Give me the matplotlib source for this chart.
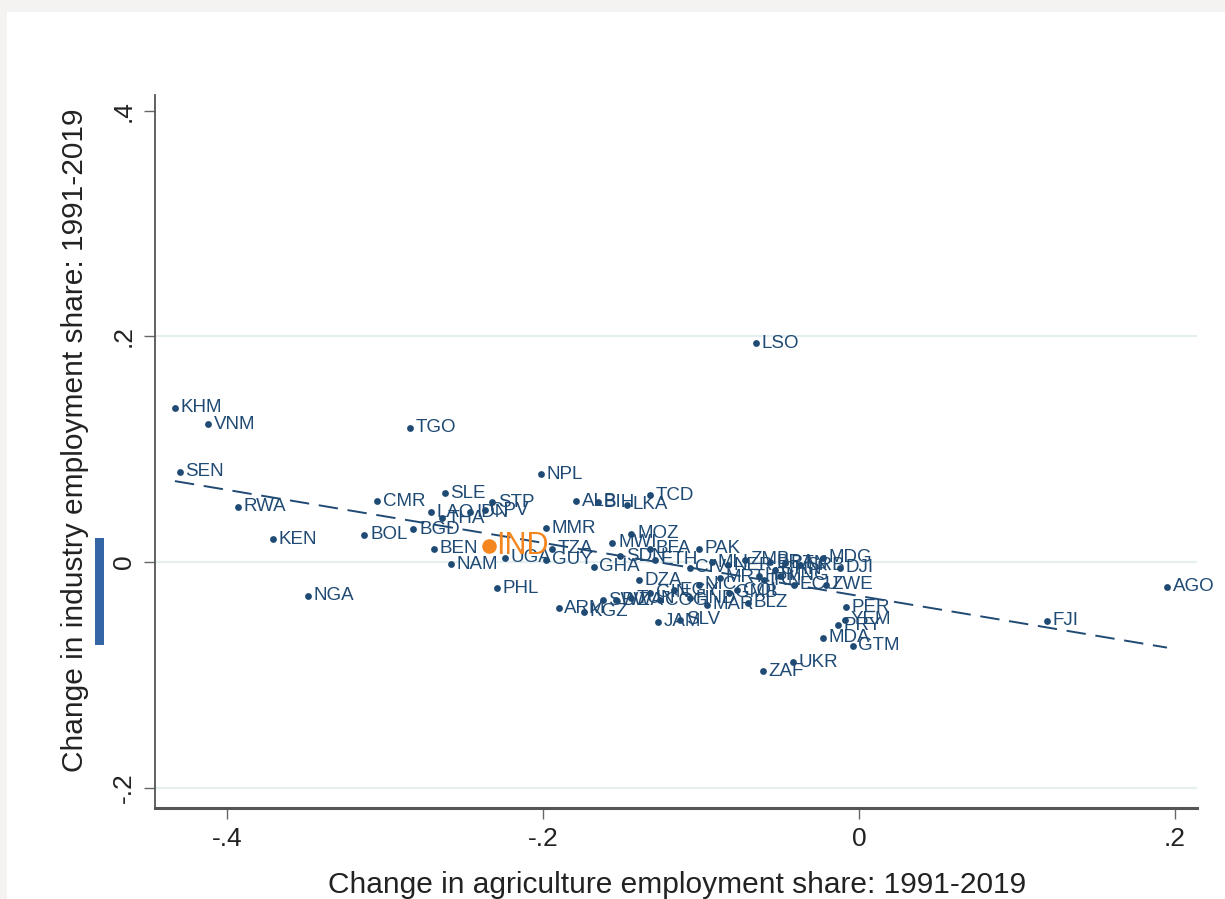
import matplotlib.pyplot as plt
from matplotlib.patches import Rectangle
import numpy as np

plt.rcParams["font.family"] = ["Liberation Sans", "DejaVu Sans"]

# country codes and changes in employment shares, 1991-2019
codes = [
    "KHM", "VNM", "SEN", "RWA", "KEN", "NGA", "TGO", "CMR", "BOL", "BGD",
    "SLE", "LAO", "THA", "IDN", "CPV", "STP", "BEN", "NAM", "UGA", "PHL",
    "NPL", "MMR", "TZA", "GUY", "ALB", "BIH", "LKA", "TCD", "MOZ", "MWI",
    "GHA", "ARM", "KGZ", "JAM", "SLV", "PAK", "MDG", "DJI", "ZWE", "PER",
    "YEM", "PRY", "MDA", "GTM", "ZAF", "UKR", "LSO", "FJI", "AGO",
    "DZA", "BFA", "SDN", "ETH", "CIV", "MLI", "NER", "ZMB", "BRA", "BTN",
    "HTI", "ECU", "COL", "MAR", "BLZ", "EGY", "HND", "NIC", "MRT", "IRN",
    "MNG", "TUN", "BWA", "SWZ", "GIN", "COG", "GMB", "CHN", "SRB",
]
agri_change = [
    -0.433, -0.412, -0.430, -0.393, -0.371, -0.349, -0.284, -0.305, -0.313, -0.282,
    -0.262, -0.271, -0.264, -0.246, -0.237, -0.232, -0.269, -0.258, -0.224, -0.229,
    -0.201, -0.198, -0.194, -0.198, -0.179, -0.165, -0.147, -0.132, -0.144, -0.156,
    -0.168, -0.190, -0.174, -0.127, -0.113, -0.101, -0.023, -0.012, -0.021, -0.008,
    -0.009, -0.013, -0.023, -0.004, -0.061, -0.042, -0.065, 0.119, 0.195,
    -0.139, -0.132, -0.151, -0.129, -0.107, -0.093, -0.083, -0.072, -0.056, -0.047,
    -0.063, -0.041, -0.077, -0.096, -0.070, -0.117, -0.107, -0.101, -0.088, -0.060,
    -0.050, -0.144, -0.154, -0.162, -0.132, -0.126, -0.082, -0.053, -0.037,
]
ind_change = [
    0.137, 0.122, 0.080, 0.049, 0.020, -0.030, 0.119, 0.054, 0.024, 0.029,
    0.061, 0.044, 0.039, 0.044, 0.046, 0.053, 0.012, -0.002, 0.004, -0.023,
    0.078, 0.030, 0.012, 0.002, 0.054, 0.053, 0.051, 0.059, 0.025, 0.017,
    -0.004, -0.041, -0.044, -0.053, -0.051, 0.012, 0.004, -0.005, -0.020, -0.040,
    -0.051, -0.056, -0.067, -0.074, -0.097, -0.089, 0.194, -0.052, -0.022,
    -0.016, 0.012, 0.005, 0.002, -0.005, 0.000, -0.003, 0.002, 0.000, -0.001,
    -0.012, -0.020, -0.025, -0.038, -0.036, -0.025, -0.032, -0.020, -0.014, -0.016,
    -0.012, -0.032, -0.034, -0.034, -0.027, -0.034, -0.027, -0.007, -0.003,
]
highlight = "IND"
ind_point = (-0.234, 0.014)

# fitted line
fit_intercept = -0.030
fit_slope = -0.235
fit_range = (-0.433, 0.195)

navy = "#1f4a73"
orange = "#f5861f"

fig = plt.figure(figsize=(12.25, 8.99), dpi=100)
fig.patch.set_facecolor("#f4f3f1")
fig.patches.append(Rectangle((7 / 1225, 0), 1, 1 - 12 / 899, transform=fig.transFigure,
                             facecolor="white", edgecolor="none", zorder=-10))
fig.patches.append(Rectangle((95 / 1225, 1 - 645 / 899), 9 / 1225, 107 / 899,
                             transform=fig.transFigure, facecolor="#3466a6",
                             edgecolor="none", zorder=-5))

ax = fig.add_axes([155 / 1225, 1 - 808 / 899, 1042 / 1225, 713 / 899])
ax.set_facecolor("none")

for yg in [0.2, 0.0, -0.2]:
    ax.axhline(yg, color="#e6efef", lw=1.6, zorder=0)

xs = np.array(fit_range)
ax.plot(xs, fit_intercept + fit_slope * xs, color=navy, lw=1.4,
        dashes=(10, 5), zorder=2)

ax.scatter(agri_change, ind_change, s=24, color=navy, zorder=3, linewidths=0)
for c, x, y in zip(codes, agri_change, ind_change):
    ax.annotate(c, (x, y), xytext=(4, 0), textcoords="offset points",
                va="center", ha="left", fontsize=13.5, color=navy, zorder=3)

ax.scatter([ind_point[0]], [ind_point[1]], s=110, color=orange, zorder=4, linewidths=0)
ax.annotate(highlight, ind_point, xytext=(5, 0), textcoords="offset points",
            va="center", ha="left", fontsize=22, color=orange, zorder=4)

ax.set_xlim(-0.4456, 0.214)
ax.set_ylim(-0.218, 0.414)
ax.set_xticks([-0.4, -0.2, 0, 0.2])
ax.set_xticklabels(["-.4", "-.2", "0", ".2"])
ax.set_yticks([-0.2, 0, 0.2, 0.4])
ax.set_yticklabels(["-.2", "0", ".2", ".4"], rotation=90, va="center")
ax.tick_params(axis="both", labelsize=19, colors="#222222", length=8, width=1,
               color="#666666", pad=6)
for s in ["top", "right"]:
    ax.spines[s].set_visible(False)
ax.spines["left"].set_color("#555555")
ax.spines["left"].set_linewidth(1.3)
ax.spines["bottom"].set_color("#555555")
ax.spines["bottom"].set_linewidth(2.2)

fig.text(75 / 1225, 1 - 440 / 899, "Change in industry employment share: 1991-2019",
         rotation=90, ha="center", va="center", fontsize=21.5, color="#222222")
fig.text(677 / 1225, 1 - 885 / 899, "Change in agriculture employment share: 1991-2019",
         ha="center", va="center", fontsize=21.5, color="#222222")

fig.savefig("out.png", dpi=100, facecolor=fig.get_facecolor())
